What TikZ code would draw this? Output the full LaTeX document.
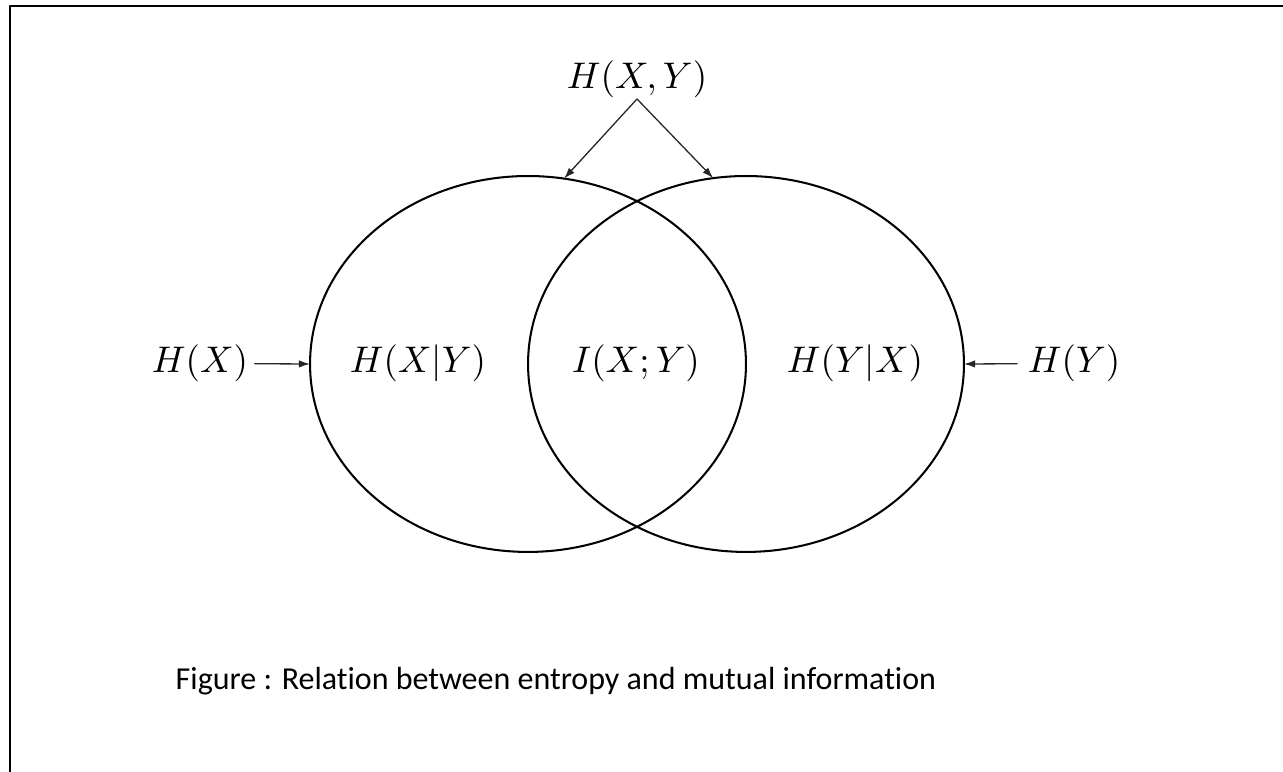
\documentclass[tikz,border=0pt]{standalone}
\usepackage{fontspec}
\newfontfamily\capfont[Ligatures=NoCommon]{Carlito}
\usetikzlibrary{shapes.geometric,arrows.meta}

\tikzset{
  infoset/.style={ellipse,draw,line width=.55pt,inner sep=0pt,outer sep=0pt,
    minimum width=117.7pt,minimum height=101.5pt},
  lbl/.style={inner sep=0pt,anchor=base},
  arr/.style={line width=.35pt,black!85,-{Latex[length=3pt,width=2pt]}}
}

\begin{document}
\begin{tikzpicture}[x=.27pt,y=.27pt,line cap=round,line join=round]
\useasboundingbox (0,0) rectangle (1283,772);
\draw[line width=.65pt,line cap=butt] (10,-5)--(10,766)--(1290,766);
\node[infoset] (ex) at (528,408) {};
\node[infoset] (ey) at (746,408) {};
\node[lbl] (hxy) at (637,683) {$H(X,Y)$};
\node[lbl] (hx) at (200,399) {$H(X)$};
\node[lbl] (hxgy) at (418,399) {$H(X|Y)$};
\node[lbl] (ixy) at (636,399) {$I(X;Y)$};
\node[lbl] (hygx) at (855,399) {$H(Y|X)$};
\node[lbl] (hy) at (1074,399) {$H(Y)$};
\draw[arr] (hxy.south) -- (ex.79);
\draw[arr] (hxy.south) -- (ey.100);
\draw[arr,shorten <=1.6pt] (hx.east) -- (ex.west);
\draw[arr,shorten <=2.7pt] (hy.west) -- (ey.east);
\node[anchor=base west,inner sep=0pt,font=\capfont\fontsize{8.64}{10}\selectfont] (caption) at (175,82)
  {Figure : Relation between entropy and mutual information};
\end{tikzpicture}
\end{document}
